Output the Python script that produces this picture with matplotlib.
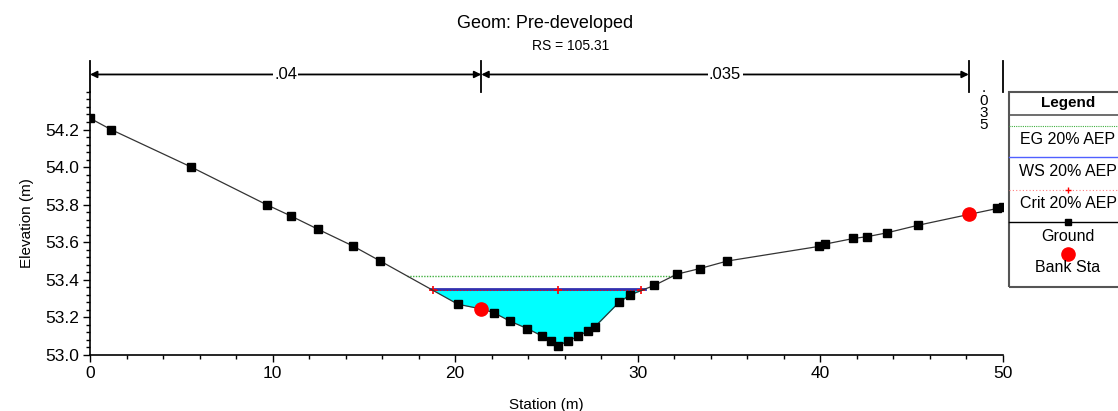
import numpy as np
import matplotlib.pyplot as plt
from matplotlib.lines import Line2D
from matplotlib.patches import Rectangle

plt.rcParams['font.family'] = ['Liberation Sans', 'DejaVu Sans']

# ground survey points (station m, elevation m)
station = [0, 1.15, 5.55, 9.67, 11.0, 12.47, 14.4, 15.9, 20.15, 21.43, 22.1, 23.0,
           23.96, 24.78, 25.27, 25.64, 26.2, 26.74, 27.29, 27.65, 28.97, 29.58,
           30.9, 32.14, 33.4, 34.9, 39.93, 40.25, 41.81, 42.58, 43.64, 45.33,
           48.13, 49.7, 50.0]
elevation = [54.26, 54.20, 54.00, 53.80, 53.74, 53.67, 53.58, 53.50, 53.27, 53.245,
             53.226, 53.18, 53.14, 53.10, 53.075, 53.05, 53.075, 53.10, 53.13, 53.15,
             53.28, 53.32, 53.37, 53.43, 53.46, 53.50, 53.578, 53.59, 53.62, 53.63,
             53.65, 53.69, 53.748, 53.78, 53.79]

bank_sta = [21.43, 48.13]
bank_elev = [53.245, 53.748]

ws_elev = 53.35
eg_elev = 53.42
crit_sta = [18.77, 25.64, 30.18]
crit_elev = [53.347, 53.347, 53.347]

# manning's n regions
n_edges = [0, 21.43, 48.13, 50.0]
n_values = ['.04', '.035', '.035']

station = np.array(station)
elevation = np.array(elevation)


def crossings(x, y, level):
    pts = []
    for i in range(len(x) - 1):
        a, b = y[i] - level, y[i + 1] - level
        if a * b < 0:
            pts.append(x[i] + (x[i + 1] - x[i]) * a / (a - b))
    return pts[0], pts[-1]


fig = plt.figure(figsize=(11.18, 4.11), dpi=100)
ax = fig.add_axes([0.0805, 0.1363, 0.8166, 0.64])

ax.fill_between(station, elevation, ws_elev, where=elevation <= ws_elev,
                interpolate=True, color='#00ffff', lw=0, zorder=1)
ws0, ws1 = crossings(station, elevation, ws_elev)
ax.plot([ws0, ws1], [ws_elev, ws_elev], color='#3030b0', lw=2, zorder=2)
eg0, eg1 = crossings(station, elevation, eg_elev)
ax.plot([eg0, eg1], [eg_elev, eg_elev], color='#40b040', lw=1, ls=(0, (1, 1)), zorder=2)
ax.plot(crit_sta, crit_elev, color='red', lw=0.8, ls=(0, (1, 2)), marker='+',
        ms=6, mew=1.2, zorder=3)
ax.plot(station, elevation, color='#333333', lw=0.9, marker='s', ms=5.5,
        mfc='black', mec='black', zorder=4)
ax.plot(bank_sta, bank_elev, 'o', color='red', ms=9.5, zorder=5)

ax.set_xlim(0, 50)
ax.set_ylim(53.0, 54.40)
ax.set_xticks([0, 10, 20, 30, 40, 50])
ax.set_xticks(np.arange(0, 51, 2), minor=True)
ax.set_yticks([53.0, 53.2, 53.4, 53.6, 53.8, 54.0, 54.2])
ax.set_yticks(np.arange(53.0, 54.41, 0.04), minor=True)
ax.set_yticklabels(['53.0', '53.2', '53.4', '53.6', '53.8', '54.0', '54.2'])
ax.tick_params(which='major', length=5, width=1, labelsize=12.5, pad=3)
ax.tick_params(which='minor', length=3, width=1)
ax.spines['top'].set_visible(False)
ax.spines['right'].set_visible(False)
for s in ['left', 'bottom']:
    ax.spines[s].set_linewidth(1.2)
ax.set_xlabel('Station (m)', fontsize=11, labelpad=12)
ax.set_ylabel('Elevation (m)', fontsize=11, labelpad=8)

# n-value dimension lines above the plot
y_arrow = 54.493
for x in n_edges:
    ax.plot([x, x], [54.40, 54.563], color='black', lw=1.3, clip_on=False)
for i in range(2):
    x0, x1 = n_edges[i], n_edges[i + 1]
    ax.annotate('', xy=(x1, y_arrow), xytext=(x0, y_arrow), annotation_clip=False,
                arrowprops=dict(arrowstyle='<|-|>', color='black', lw=1.3,
                                mutation_scale=10, shrinkA=0, shrinkB=0))
    ax.text((x0 + x1) / 2, y_arrow, n_values[i], ha='center', va='center',
            fontsize=12, bbox=dict(fc='white', ec='none', pad=1), clip_on=False)
ax.text(48.95, 54.32, '.\n' + '\n'.join(n_values[2][1:]), ha='center', va='center',
        fontsize=11, linespacing=0.85, clip_on=False)

fig.text(0.4875, 0.943, 'Geom: Pre-developed', ha='center', va='center', fontsize=13)
fig.text(0.51, 0.888, 'RS = 105.31', ha='center', va='center', fontsize=10)

# legend panel
lx0, ly0, ly1 = 0.9025, 0.3017, 0.776
cx = 0.9553
fig.patches.append(Rectangle((lx0, ly0), 0.2, ly1 - ly0, transform=fig.transFigure,
                             fill=False, ec='#555555', lw=1.5))
fig.lines.append(Line2D([lx0, 1], [0.72, 0.72], transform=fig.transFigure,
                        color='#555555', lw=1.2))
fig.text(cx, 0.749, 'Legend', ha='center', va='center', fontsize=11, weight='bold')


def py(p):
    return (411 - p) / 411


fig.lines.append(Line2D([lx0, 1], [py(126)] * 2, transform=fig.transFigure,
                        color='#40b040', lw=0.8, ls=(0, (1, 1))))
fig.lines.append(Line2D([lx0, 1], [py(157)] * 2, transform=fig.transFigure,
                        color='#5060ff', lw=1))
fig.lines.append(Line2D([lx0, 1], [py(190)] * 2, transform=fig.transFigure,
                        color='#ff8080', lw=0.8, ls=(0, (1, 2))))
fig.lines.append(Line2D([cx], [py(190)], transform=fig.transFigure,
                        color='red', marker='+', ms=5, mew=1))
fig.lines.append(Line2D([lx0, 1], [py(222)] * 2, transform=fig.transFigure,
                        color='black', lw=1))
fig.lines.append(Line2D([cx], [py(222)], transform=fig.transFigure,
                        color='black', marker='s', ms=5))
fig.lines.append(Line2D([cx], [py(254)], transform=fig.transFigure,
                        color='red', marker='o', ms=9.5))
for label, p in [('EG 20% AEP', 139), ('WS 20% AEP', 171), ('Crit 20% AEP', 203),
                 ('Ground', 236), ('Bank Sta', 268)]:
    fig.text(cx, py(p), label, ha='center', va='center', fontsize=11.5)

fig.savefig('out.png', dpi=100)
